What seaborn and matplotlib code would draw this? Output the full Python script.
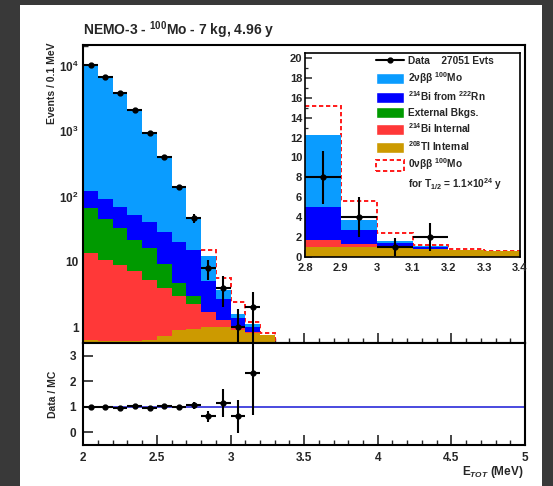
import numpy as np
import pandas as pd
import matplotlib
matplotlib.use('Agg')
import matplotlib.pyplot as plt
from matplotlib.patches import Patch, Rectangle
from matplotlib.lines import Line2D
from matplotlib.ticker import MultipleLocator, FixedLocator, FixedFormatter, LogLocator, NullFormatter, FormatStrFormatter
import seaborn as sns

# 0.1 MeV bins of the summed electron energy
edges = [2.0, 2.1, 2.2, 2.3, 2.4, 2.5, 2.6, 2.7, 2.8, 2.9, 3.0, 3.1, 3.2, 3.3, 3.4]

# MC components, events per bin
tl208_int = [0.63, 0.62, 0.62, 0.62, 0.63, 0.72, 0.90, 0.95, 1.0, 1.0, 0.9, 0.8, 0.75, 0.56]
bi214_int = [13.1, 10.1, 8.4, 6.6, 4.6, 3.3, 2.1, 1.3, 0.7, 0.3, 0.1, 0.05, 0.0, 0.0]
external = [52.0, 35.0, 24.0, 14.3, 10.8, 5.2, 1.8, 0.74, 0.0, 0.0, 0.0, 0.0, 0.0, 0.0]
bi214_rn = [55.0, 47.0, 37.0, 30.5, 24.0, 19.8, 15.2, 12.0, 3.3, 1.4, 0.4, 0.15, 0.0, 0.0]
mo100_2nu = [10280, 6810, 3830, 2048, 910, 371, 120, 30.0, 7.3, 1.0, 0.2, 0.1, 0.0, 0.0]
mo100_0nu = [0, 0, 0, 0, 0, 0, 0, 0, 2.9, 1.9, 0.8, 0.1, 0.05, 0.0]

# data
data_n = [10500, 6900, 3800, 2150, 930, 410, 139, 47, 8, 4, 1, 2]
data_err = [102, 83, 62, 46, 30, 20, 12, 7, 2.7, 2.0, 0.9, 1.4]
ratio = [1.0, 1.0, 0.97, 1.03, 0.97, 1.02, 0.99, 1.05, 0.62, 1.13, 0.63, 2.32]
ratio_err = [0.01, 0.015, 0.02, 0.025, 0.035, 0.05, 0.085, 0.15, 0.2, 0.55, 0.65, 1.66]

components = ['2nu', 'rn', 'ext', 'biint', 'tl']
colors = {'2nu': '#0a9cff', 'rn': '#0000ff', 'ext': '#009a00',
          'biint': '#ff3838', 'tl': '#cc9a00'}
values = {'2nu': mo100_2nu, 'rn': bi214_rn, 'ext': external,
          'biint': bi214_int, 'tl': tl208_int}

centers = [(a + b) / 2 for a, b in zip(edges[:-1], edges[1:])]
rows = []
for c in components:
    for x, w in zip(centers, values[c]):
        rows.append({'energy': x, 'events': w, 'component': c})
df = pd.DataFrame(rows)

total = np.sum([values[c] for c in components], axis=0)
with_signal = total + np.array(mo100_0nu)
data_x = centers[:len(data_n)]

sns.set_style('ticks')
plt.rcParams.update({
    'font.family': ['Liberation Sans', 'DejaVu Sans'],
    'font.weight': 'bold',
    'mathtext.fontset': 'custom',
    'mathtext.rm': 'Liberation Sans:bold',
    'mathtext.it': 'Liberation Sans:italic:bold',
    'mathtext.bf': 'Liberation Sans:bold',
    'xtick.direction': 'in',
    'ytick.direction': 'in',
    'axes.linewidth': 1.5,
    'axes.edgecolor': 'black',
})

W, H = 553, 486
fig = plt.figure(figsize=(W / 100, H / 100), dpi=100)
fig.patch.set_facecolor('#393939')
fig.add_artist(Rectangle((20 / W, 0), (542 - 20) / W, (486 - 5) / H,
                         transform=fig.transFigure, facecolor='white',
                         edgecolor='none', zorder=-10))


def fx(px):
    return px / W


def fy(py):
    return 1 - py / H


left, right = 83.3, 525
ax = fig.add_axes([fx(left), fy(343), fx(right - left), (343 - 45) / H])
axr = fig.add_axes([fx(left), fy(445), fx(right - left), (445 - 343) / H])
axi = fig.add_axes([fx(305), fy(257), fx(520 - 305), (257 - 53) / H])


def draw_stack(a):
    sns.histplot(data=df, x='energy', weights='events', hue='component',
                 hue_order=components, palette=colors, multiple='stack',
                 bins=edges, element='step', linewidth=0, alpha=1,
                 legend=False, ax=a, zorder=1)
    a.stairs(with_signal[8:], edges[8:], baseline=None, color='#ff1a1a',
             linestyle=(0, (2.2, 1.4)), linewidth=1.4, zorder=0.8)
    a.errorbar(data_x, data_n, yerr=data_err, xerr=0.05, fmt='o', ms=3.5,
               color='black', elinewidth=1.5, capsize=0, zorder=3)
    a.set_xlabel('')
    a.set_ylabel('')


# main log panel
draw_stack(ax)
ax.set_yscale('log')
ax.set_xlim(2, 5)
ax.set_ylim(0.57, 2.1e4)
ax.yaxis.set_major_locator(FixedLocator([1, 10, 100, 1000, 10000]))
ax.yaxis.set_major_formatter(FixedFormatter(['1', '10', '10$^{2}$', '10$^{3}$', '10$^{4}$']))
ax.yaxis.set_minor_locator(LogLocator(base=10, subs=np.arange(2, 10), numticks=20))
ax.yaxis.set_minor_formatter(NullFormatter())
ax.xaxis.set_major_locator(MultipleLocator(0.5))
ax.xaxis.set_minor_locator(MultipleLocator(0.1))
ax.tick_params(axis='x', labelbottom=False)
ax.tick_params(which='major', length=7, width=1.2, labelsize=8.5)
ax.tick_params(which='minor', length=3.5, width=1.0)

# ratio panel
axr.axhline(1, color='#3b3bdc', linewidth=1.3, zorder=1)
axr.errorbar(data_x, ratio, yerr=ratio_err, xerr=0.05, fmt='o', ms=3.5,
             color='black', elinewidth=1.5, capsize=0, zorder=3)
axr.set_xlim(2, 5)
axr.set_ylim(-0.5, 3.5)
axr.yaxis.set_major_locator(FixedLocator([0, 1, 2, 3]))
axr.xaxis.set_major_locator(MultipleLocator(0.5))
axr.xaxis.set_minor_locator(MultipleLocator(0.1))
axr.xaxis.set_major_formatter(FormatStrFormatter('%g'))
axr.tick_params(which='major', length=7, width=1.2, labelsize=8.5, pad=5)
axr.tick_params(which='minor', length=3.5, width=1.0)

# zoomed inset
draw_stack(axi)
axi.set_xlim(2.8, 3.4)
axi.set_ylim(0, 20.5)
axi.yaxis.set_major_locator(MultipleLocator(2))
axi.yaxis.set_minor_locator(MultipleLocator(1))
axi.xaxis.set_major_locator(MultipleLocator(0.1))
axi.xaxis.set_major_formatter(FormatStrFormatter('%g'))
axi.tick_params(which='major', length=5, width=1.1, labelsize=8, pad=2)
axi.tick_params(axis='x', pad=4)
axi.tick_params(which='minor', length=2.5, width=0.9)
for s in axi.spines.values():
    s.set_linewidth(1.2)

handles = [
    Line2D([], [], color='black', marker='o', ms=3.5, lw=1.5),
    Patch(facecolor=colors['2nu']),
    Patch(facecolor=colors['rn']),
    Patch(facecolor=colors['ext']),
    Patch(facecolor=colors['biint']),
    Patch(facecolor=colors['tl']),
    Patch(facecolor='none', edgecolor='#ff1a1a', linestyle=(0, (2.2, 1.4)), linewidth=1.4),
    Line2D([], [], linestyle='none'),
]
labels = [
    'Data    27051 Evts',
    '2\u03bd\u03b2\u03b2 $^{100}$Mo',
    '$^{214}$Bi from $^{222}$Rn',
    'External Bkgs.',
    '$^{214}$Bi Internal',
    '$^{208}$Tl Internal',
    '0\u03bd\u03b2\u03b2 $^{100}$Mo',
    'for T$_{1/2}$ = 1.1\u00d710$^{24}$ y',
]
axi.legend(handles, labels, loc='upper left', bbox_to_anchor=(0.33, 0.99),
           frameon=False, fontsize=7.3, handlelength=2.8, handleheight=1.3,
           labelspacing=0.36, handletextpad=0.35, borderpad=0, borderaxespad=0)

# texts
fig.text(fx(83), fy(35), 'NEMO-3 - $^{100}$Mo - 7 kg, 4.96 y', ha='left',
         va='baseline', fontsize=10, fontweight='bold')
fig.text(fx(52), fy(43), 'Events / 0.1 MeV', rotation=90, ha='center',
         va='top', fontsize=7.5)
fig.text(fx(53), fy(394), 'Data / MC', rotation=90, ha='center',
         va='center', fontsize=7.5)
fig.text(fx(523), fy(472), 'E$_{TOT}$ (MeV)', ha='right', va='center',
         fontsize=8.5)

fig.savefig('out.png', dpi=100, facecolor=fig.get_facecolor())
